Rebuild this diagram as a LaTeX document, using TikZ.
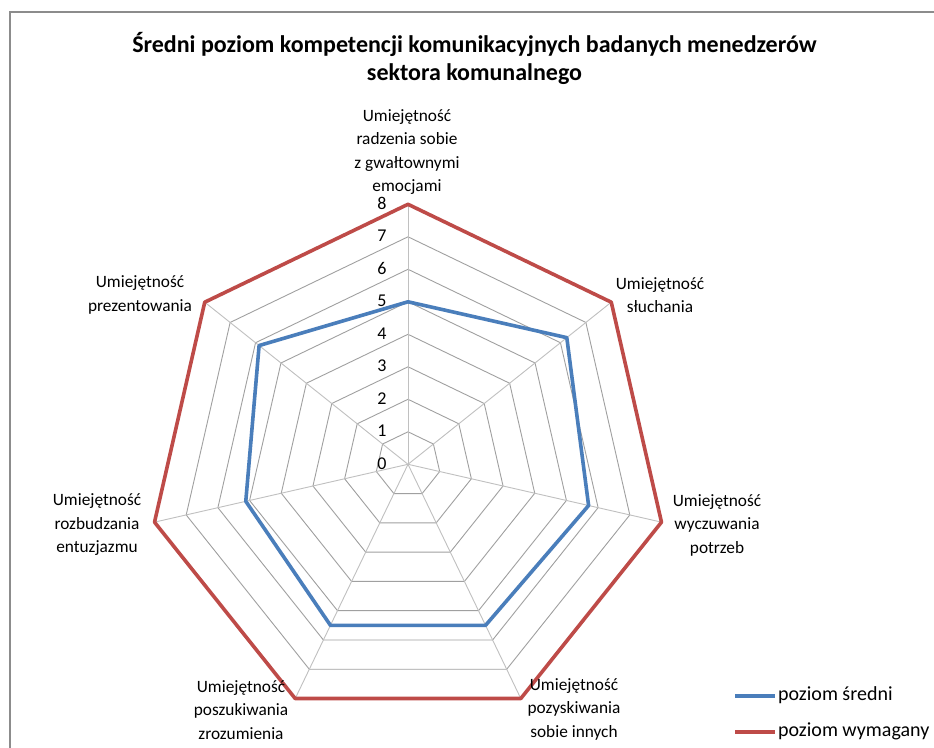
\documentclass[tikz,border=0pt]{standalone}
\usepackage{fontspec}
\setmainfont{Carlito}
\definecolor{serA}{HTML}{4A7EBB}
\definecolor{serB}{HTML}{BE4B48}
\definecolor{gridc}{HTML}{A0A0A0}
\definecolor{spokec}{HTML}{C0C0C0}
\definecolor{framec}{HTML}{8C8C8C}
\begin{document}
\begin{tikzpicture}[x=1pt,y=1pt,
  axlabel/.style={align=center,font=\fontsize{17.3}{23.5}\selectfont,inner sep=0pt},
  ticklabel/.style={font=\fontsize{18}{20}\selectfont,inner sep=0pt},
  legtext/.style={anchor=west,font=\fontsize{20}{22}\selectfont,inner sep=0pt},
  gridline/.style={draw=gridc,line width=0.9pt},
  spoke/.style={draw=spokec,line width=0.9pt},
  seriesA/.style={draw=serA,line width=3.6pt,line join=round},
  seriesB/.style={draw=serB,line width=3.6pt,line join=round}]
\useasboundingbox (0,0) rectangle (934,747);
\fill[white] (0,0) rectangle (934,747);
\draw[framec,line width=1.5pt] (10,-2) -- (10,735) -- (936,735);
\node[align=center,font=\bfseries\fontsize{24}{27.5}\selectfont,inner sep=0pt] (title) at (474.5,688.5) {Średni poziom kompetencji komunikacyjnych badanych menedzerów\\sektora komunalnego};
\def\u{32.5}
\begin{scope}[shift={(408,282.7)}]
  \coordinate (c) at (0,0);
  % grid
  \foreach \l in {1,...,7}{
    \draw[gridline] (90:\l*\u) -- (38.5714:\l*\u) -- (-12.8571:\l*\u) -- (-64.2857:\l*\u) -- (-115.7143:\l*\u) -- (-167.1429:\l*\u) -- (141.4286:\l*\u) -- cycle;
  }
  \foreach \a in {90,38.5714,-12.8571,-64.2857,-115.7143,-167.1429,141.4286}{
    \draw[spoke] (c) -- (\a:8*\u);
  }
  % tick labels
  \foreach \l in {0,...,8}{
    \node[ticklabel] (t\l) at (-26,\l*\u+1) {\l};
  }
  % series
  \draw[seriesB] (90:8*\u) -- (38.5714:8*\u) -- (-12.8571:8*\u) -- (-64.2857:8*\u) -- (-115.7143:8*\u) -- (-167.1429:8*\u) -- (141.4286:8*\u) -- cycle;
  \draw[seriesA] (90:5*\u) -- (38.5714:6.25*\u) -- (-12.8571:5.7*\u) -- (-64.2857:5.5*\u) -- (-115.7143:5.5*\u) -- (-167.1429:5.12*\u) -- (141.4286:5.86*\u) -- cycle;
\end{scope}
% axis labels
\node[axlabel] (l0) at (407,595) {Umiejętność\\radzenia sobie\\z gwałtownymi\\emocjami};
\node[axlabel] (l1) at (660,452) {Umiejętność\\słuchania};
\node[axlabel] (l2) at (717,222) {Umiejętność\\wyczuwania\\potrzeb};
\node[axlabel] (l3) at (574,38) {Umiejętność\\pozyskiwania\\sobie innych};
\node[axlabel] (l4) at (241,37) {Umiejętność\\poszukiwania\\zrozumienia};
\node[axlabel] (l5) at (97,222) {Umiejętność\\rozbudzania\\entuzjazmu};
\node[axlabel] (l6) at (140,452) {Umiejętność\\prezentowania};
% legend
\coordinate (la1) at (735,51);
\coordinate (la2) at (775,51);
\coordinate (lb1) at (735,15);
\coordinate (lb2) at (775,15);
\draw[seriesA] (la1) -- (la2);
\draw[seriesB] (lb1) -- (lb2);
\node[legtext] (leg1) at (778,52) {poziom średni};
\node[legtext] (leg2) at (778,16) {poziom wymagany};
\end{tikzpicture}
\end{document}
